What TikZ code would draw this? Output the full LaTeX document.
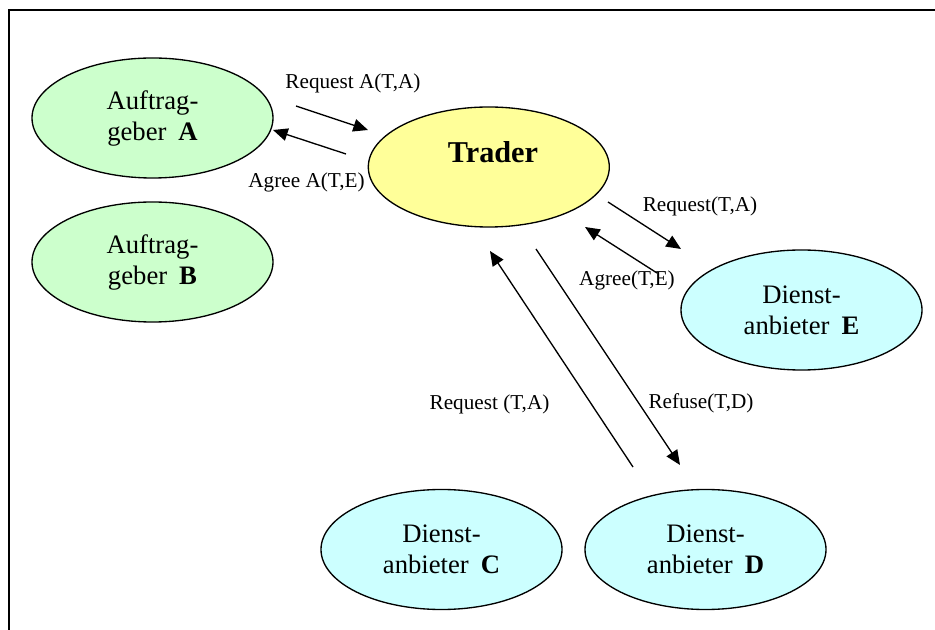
\documentclass[tikz,border=0pt]{standalone}
\usepackage{fontspec}
\setmainfont{Liberation Serif}
\usetikzlibrary{arrows.meta,shapes.geometric}
\definecolor{clientfill}{HTML}{CCFFCC}
\definecolor{traderfill}{HTML}{FFFF99}
\definecolor{providerfill}{HTML}{CCFFFF}
\tikzset{
  party/.style={ellipse, draw=black, line width=1pt, inner sep=0pt,
    minimum width=180.75pt, minimum height=90pt, align=center,
    font=\fontsize{20}{23.25}\selectfont},
  msg/.style={line width=1pt, -{Triangle[length=11pt,width=9.5pt]}},
  msglabel/.style={anchor=base, inner sep=0pt, font=\fontsize{15.9}{18}\selectfont},
}
\begin{document}
\begin{tikzpicture}[x=0.75pt, y=-0.75pt]
  \useasboundingbox (0,0) rectangle (935,630);
  % open frame: left and top edges
  \coordinate (fb) at (9,630);
  \coordinate (fc) at (9,10);
  \coordinate (fr) at (935,10);
  \draw[line width=1.5pt] (fb) -- (fc) -- (fr);

  % participants
  \node[party, fill=clientfill] (A) at (152.5,118) {Auftrag-\\geber\hspace{0.45em}\textbf{A}};
  \node[party, fill=clientfill] (B) at (152.5,262) {Auftrag-\\geber\hspace{0.45em}\textbf{B}};
  \node[party, fill=traderfill] (T) at (488.8,167) {};
  \node[anchor=base, inner sep=0pt, font=\fontsize{22.7}{26}\selectfont\bfseries] (Ttext) at (493,163) {Trader};
  \node[party, fill=providerfill] (E) at (801.5,310) {Dienst-\\anbieter\hspace{0.45em}\textbf{E}};
  \node[party, fill=providerfill] (C) at (441.5,549.5) {Dienst-\\anbieter\hspace{0.45em}\textbf{C}};
  \node[party, fill=providerfill] (D) at (705.5,549.5) {Dienst-\\anbieter\hspace{0.45em}\textbf{D}};

  % message arrow end points
  \coordinate (reqA1) at (296,106);  \coordinate (reqA2) at (368,130);
  \coordinate (agrA1) at (346,154);  \coordinate (agrA2) at (273,130);
  \coordinate (reqE1) at (608,202);  \coordinate (reqE2) at (681,249);
  \coordinate (agrE1) at (657,273);  \coordinate (agrE2) at (585,227);
  \coordinate (reqC1) at (633,467);  \coordinate (reqC2) at (490,251);
  \coordinate (refD1) at (536,249);  \coordinate (refD2) at (680,465);

  \draw[msg] (reqA1) -- (reqA2);
  \draw[msg] (agrA1) -- (agrA2);
  \draw[msg] (reqE1) -- (reqE2);
  \draw[msg] (agrE1) -- (agrE2);
  \draw[msg] (reqC1) -- (reqC2);
  \draw[msg] (refD1) -- (refD2);

  % message labels
  \node[msglabel] (lreqA) at (353,89) {Request A(T,A)};
  \node[msglabel] (lagrA) at (306.5,188) {Agree A(T,E)};
  \node[msglabel] (lreqE) at (700,212) {Request(T,A)};
  \node[msglabel] (lagrE) at (627,286) {Agree(T,E)};
  \node[msglabel] (lreqC) at (489.5,410) {Request (T,A)};
  \node[msglabel] (lrefD) at (701,409) {Refuse(T,D)};
\end{tikzpicture}
\end{document}
